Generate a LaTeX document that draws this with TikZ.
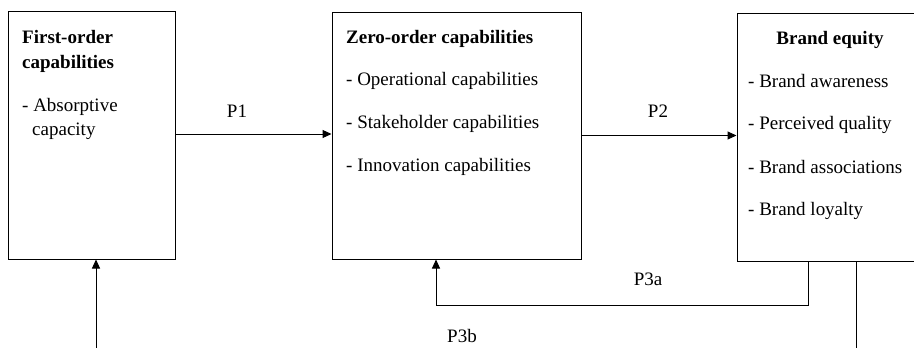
\documentclass[tikz,border=0pt]{standalone}
\usepackage{fontspec}
\setmainfont{Liberation Serif}
\usetikzlibrary{arrows.meta}
\tikzset{
  box/.style={draw, line width=1pt, inner sep=0pt},
  txt/.style={font=\fontsize{19}{23}\selectfont, inner sep=0pt, anchor=base west},
  lbl/.style={font=\fontsize{19}{23}\selectfont, inner sep=0pt, anchor=base},
  conn/.style={line width=1pt, -{Triangle[length=9pt,width=8pt]}},
  plain/.style={line width=1pt}
}
\begin{document}
\begin{tikzpicture}[x=1pt,y=-1pt]
        \useasboundingbox (0,0) rectangle (914,348);
        \clip (0,0) rectangle (914,348);
        \node [box, minimum width=167pt, minimum height=248pt] (first) at (91.5,135) {};
        \node [box, minimum width=249pt, minimum height=247pt] (zero) at (456.5,135.5) {};
        \node [box, minimum width=186pt, minimum height=248pt] (brand) at (830,137) {};
        \node [txt, font=\fontsize{19}{23}\selectfont\bfseries] (f1) at (22,43) {First-order};
        \node [txt, font=\fontsize{19}{23}\selectfont\bfseries] (f2) at (22,68) {capabilities};
        \node [txt] (f3) at (22,111) {- Absorptive};
        \node [txt] (f4) at (32,135) {capacity};
        \node [txt, font=\fontsize{19}{23}\selectfont\bfseries] (z0) at (346,43) {Zero-order capabilities};
        \node [txt] (z1) at (346,85) {- Operational capabilities};
        \node [txt] (z2) at (346,128) {- Stakeholder capabilities};
        \node [txt] (z3) at (346,171) {- Innovation capabilities};
        \node [lbl, font=\fontsize{19}{23}\selectfont\bfseries] (b0) at (830,44) {Brand equity};
        \node [txt] (b1) at (748,87) {- Brand awareness};
        \node [txt] (b2) at (748,129) {- Perceived quality};
        \node [txt] (b3) at (748,173) {- Brand associations};
        \node [txt] (b4) at (748,215) {- Brand loyalty};
        \node [lbl] (p1) at (237,117) {P1};
        \node [lbl] (p2) at (658,117) {P2};
        \node [lbl] (p3a) at (648,285) {P3a};
        \node [lbl] (p3b) at (462,342) {P3b};
        \coordinate (a1) at (808,305);
        \coordinate (a2) at (436,305);
        \coordinate (c1) at (856,370);
        \coordinate (c2) at (96,370);
        \draw [conn] (first.east |- 0,134) -- (zero.west |- 0,134);
        \draw [conn] (zero.east) -- (zero.east -| brand.west);
        \draw [conn] (brand.south -| a1) -- (a1) -- (a2) -- (zero.south -| a2);
        \draw [conn] (brand.south -| c1) -- (c1) -- (c2) -- (first.south -| c2);
    \end{tikzpicture}
\end{document}
